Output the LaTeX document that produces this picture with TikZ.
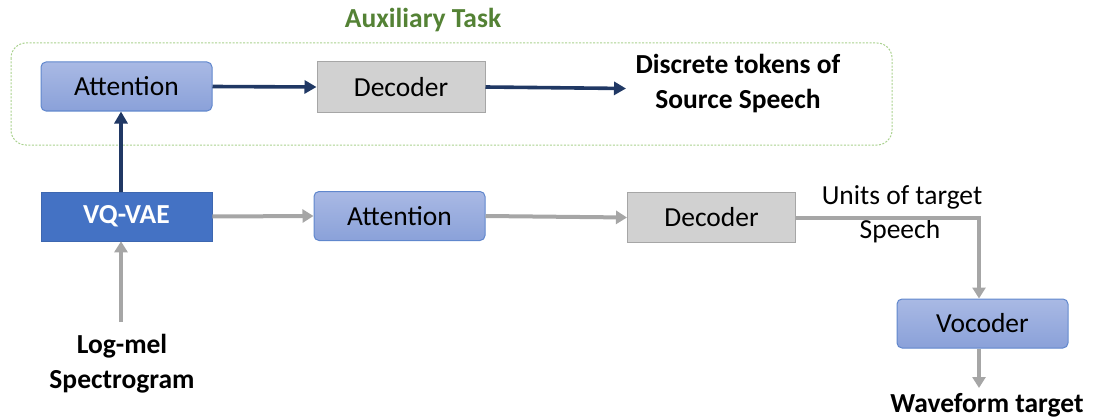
\documentclass[tikz,border=0pt]{standalone}
\usepackage{fontspec}
\setmainfont{Carlito}
\usetikzlibrary{arrows.meta}
\definecolor{navy}{HTML}{203864}
\definecolor{garrow}{HTML}{A6A6A6}
\definecolor{auxgreen}{HTML}{548235}
\definecolor{dashgreen}{HTML}{A9D18E}
\definecolor{vqblue}{HTML}{4472C4}
\definecolor{atttop}{HTML}{A9B9E4}
\definecolor{attbot}{HTML}{8AA1D9}
\tikzset{
  x=1pt,y=-1pt,
  txt/.style={font=\fontsize{27.5}{33}\selectfont, inner sep=0pt, align=center},
  btxt/.style={txt, font=\fontsize{27.5}{35}\selectfont\bfseries},
  attbox/.style={txt, draw=vqblue!85, line width=1pt, rounded corners=5pt, top color=atttop, bottom color=attbot, minimum width=171pt, minimum height=49pt},
  decbox/.style={txt, draw=garrow, line width=1pt, fill=black!18, minimum width=168pt, minimum height=50pt},
  navyarrow/.style={draw=navy, line width=3.6pt, -{Triangle[length=12pt,width=13pt]}},
  grayarrow/.style={draw=garrow, line width=4pt, -{Triangle[length=11pt,width=13pt]}},
}
\begin{document}
\begin{tikzpicture}
\useasboundingbox (0,0) rectangle (1120,420);
% auxiliary frame
\draw[dashgreen, line width=1pt, dash pattern=on 2pt off 1.5pt, rounded corners=15pt] (11,43) rectangle (892,145);
\node[btxt, text=auxgreen] (aux) at (423,20) {Auxiliary Task};
% top row
\node[attbox] (att1) at (126.5,86.5) {Attention};
\node[decbox] (dec1) at (401,87) {Decoder};
\node[btxt] (disc) at (738,84) {Discrete tokens of\\Source Speech};
% bottom row
\node[txt, fill=vqblue, draw=vqblue!90!black, line width=0.6pt, minimum width=171pt, minimum height=49pt, text=white, font=\fontsize{27.5}{33}\selectfont\bfseries] (vq) at (126.5,216.5) {VQ-VAE};
\node[attbox] (att2) at (399.5,216) {Attention};
\node[decbox] (dec2) at (711.5,217.5) {Decoder};
\node[attbox] (voc) at (982.5,323.5) {Vocoder};
\node[txt] (units1) at (902,197) {Units of target};
\node[txt] (units2) at (900,231) {Speech};
\node[btxt] (logmel) at (122,364) {Log-mel\\Spectrogram};
\node[btxt] (wave) at (987,405) {Waveform target};
\coordinate (logstart) at (121,322);
\coordinate (corner) at (979,218);
\coordinate (waveend) at (979,388);
% connectors
\draw[navyarrow] (att1.east) -- (dec1.west);
\draw[navyarrow] (dec1.east) -- (626,88.5);
\draw[navyarrow] (vq.north -| 121,0) -- (att1.south -| 121,0);
\draw[grayarrow] (logstart) -- (vq.south -| logstart);
\draw[grayarrow] (vq.east) -- (att2.west);
\draw[grayarrow] (att2.east) -- (dec2.west);
\draw[grayarrow] (dec2.east |- corner) -- (corner) -- (voc.north -| corner);
\draw[grayarrow] (voc.south -| corner) -- (waveend);
\end{tikzpicture}
\end{document}
